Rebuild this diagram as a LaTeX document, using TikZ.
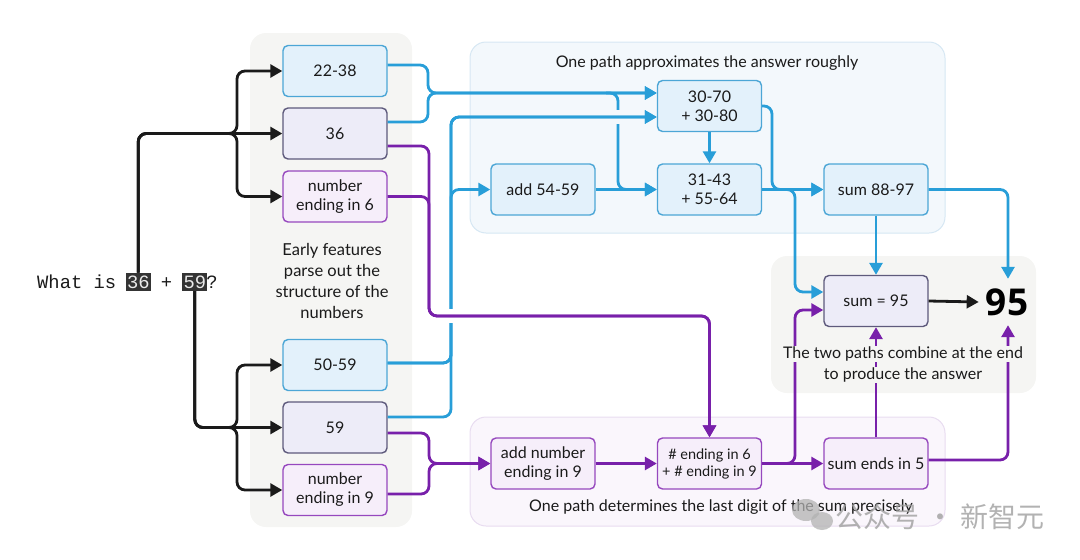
\documentclass[tikz,border=0pt]{standalone}
\usepackage{fontspec}
\setmainfont{Lato}
\newfontfamily\monof{Liberation Mono}
\newfontfamily\bigf{Open Sans}
\newfontfamily\cjkf{Noto Sans CJK SC}
\usetikzlibrary{arrows.meta,calc}
\definecolor{lnblue}{RGB}{40,158,216}
\definecolor{lnpurp}{RGB}{120,32,170}
\definecolor{lnblk}{RGB}{26,26,26}
\definecolor{fblue}{RGB}{227,241,251}
\definecolor{dblue}{RGB}{76,166,214}
\definecolor{flav}{RGB}{237,236,248}
\definecolor{dlav}{RGB}{94,90,124}
\definecolor{fpur}{RGB}{246,238,250}
\definecolor{dpur}{RGB}{150,72,190}
\definecolor{pgray}{RGB}{245,245,243}
\definecolor{pblue}{RGB}{243,248,252}
\definecolor{pblueb}{RGB}{214,231,243}
\definecolor{ppur}{RGB}{250,246,252}
\definecolor{ppurb}{RGB}{232,220,240}
\definecolor{qbox}{RGB}{52,52,52}
\begin{document}
\begin{tikzpicture}[x=1pt,y=-1pt,
  box/.style={rounded corners=5pt, line width=1.4pt, minimum width=104pt, minimum height=51pt, inner sep=2pt, align=center, text=lnblk, font=\fontsize{16}{19}\selectfont},
  bbox/.style={box, draw=dblue, fill=fblue},
  lbox/.style={box, draw=dlav, fill=flav},
  pbox/.style={box, draw=dpur, fill=fpur},
  mono/.style={font=\fontsize{18.8}{22}\monof, inner sep=0pt, text=lnblk},
  qnum/.style={font=\fontsize{18.8}{22}\monof, fill=qbox, text=white!92!black, inner xsep=1.2pt, inner ysep=2.5pt, text depth=0.5pt},
  ptext/.style={font=\fontsize{16}{20.8}\selectfont, align=center, text=lnblk, inner sep=1pt},
  conn/.style={line width=2.8pt, rounded corners=8pt, line join=round},
  bl/.style={conn, draw=lnblue, -{Triangle[length=12pt,width=13pt]}},
  pl/.style={conn, draw=lnpurp, -{Triangle[length=12pt,width=13pt]}},
  kl/.style={conn, draw=lnblk, -{Triangle[length=12pt,width=13pt]}},
]
\useasboundingbox (0,0) rectangle (1080,560);
% panels
\fill[pgray, rounded corners=16pt] (250,33) rectangle (412,527);
\draw[pblueb, fill=pblue, line width=1pt, rounded corners=16pt] (470,42) rectangle (945,233);
\draw[ppurb, fill=ppur, line width=1pt, rounded corners=16pt] (470,417) rectangle (945,526);
\fill[pgray, rounded corners=16pt] (771,256) rectangle (1036,393);

% panel texts
\node[ptext] (tBlue) at (707,63) {One path approximates the answer roughly};
\node[ptext] (tPur) at (721,507) {One path determines the last digit of the sum precisely};
\node[ptext, font=\fontsize{16.5}{20.8}\selectfont] (tLeft) at (332,281) {Early features\\parse out the\\structure of the\\numbers};

% question
\node[mono, anchor=base west] (qw) at (37,288) {What is};
\node[qnum, anchor=base] (n36) at (138.3,288) {36};
\node[mono, anchor=base] (qp) at (166.6,288) {+};
\node[qnum, anchor=base] (n59) at (194.8,288) {59};
\node[mono, anchor=base] (qq) at (212,288) {?};

% boxes
\node[bbox] (a2238) at (335,71) {22-38};
\node[lbox] (a36) at (335,133.5) {36};
\node[pbox] (e6) at (335,196.5) {number\\ending in 6};
\node[bbox] (b5059) at (335,365) {50-59};
\node[lbox] (b59) at (335,427.5) {59};
\node[pbox] (e9) at (335,490) {number\\ending in 9};
\node[bbox] (c3070) at (709.5,106) {30-70\\+ 30-80};
\node[bbox] (c3143) at (709.5,189.5) {31-43\\+ 55-64};
\node[bbox] (add5459) at (543,189.5) {add 54-59};
\node[bbox] (s8897) at (876,189.5) {sum 88-97};
\node[lbox] (s95) at (876,301) {sum = 95};
\node[font=\fontsize{37}{40}\bigf\bfseries, inner sep=0pt, minimum height=46pt, text=black] (ans) at (1007,302) {95};
\node[pbox] (an9) at (543,463.5) {add number\\ending in 9};
\node[pbox, font=\fontsize{14.5}{17}\selectfont] (h6) at (709.5,463.5) {\# ending in 6\\+ \# ending in 9};
\node[pbox] (se5) at (876,463.5) {sum ends in 5};

% black connectors
\coordinate (j1) at (237,133.5);
\draw[kl] (n36.north) |- (j1) |- (a2238.west);
\draw[kl] (n36.north) |- (j1) -- (a36.west);
\draw[kl] (n36.north) |- (j1) |- (e6.west);
\coordinate (j2) at (237,427.5);
\draw[kl] (n59.south) |- (j2) |- (b5059.west);
\draw[kl] (n59.south) |- (j2) -- (b59.west);
\draw[kl] (n59.south) |- (j2) |- (e9.west);

% blue connectors
\coordinate (jb1) at (428,93);
\coordinate (jb2) at (618,93);
\draw[bl] ([yshift=6pt]a2238.east) -| (jb1) -- ([yshift=13pt]c3070.west);
\draw[bl] ([yshift=11.5pt]a36.east) -| (jb1) -- ([yshift=13pt]c3070.west);
\draw[bl] ([xshift=-12pt]jb2) -- (jb2) |- (c3143.west);
\fill[pblue] (614.5,110) rectangle (621.5,124);
\coordinate (bx) at (451,117);
\coordinate (bv) at (451,300);
\draw[bl] ([yshift=2pt]b5059.east) -| (bx) -- ([yshift=-11pt]c3070.west);
\draw[bl] ([yshift=10.5pt]b59.east) -| (bx) -- ([yshift=-11pt]c3070.west);
\draw[bl] ([yshift=2pt]b5059.east) -| (bv) |- (add5459.west);
\draw[bl] (add5459.east) -- (c3143.west);
\draw[bl] (c3070.south) -- (c3143.north);
\coordinate (jc) at (772,189.5);
\draw[bl] (c3070.east) -| (jc) -- (s8897.west);
\draw[bl] (c3143.east) -- (s8897.west);
\coordinate (jd) at (795,240);
\draw[bl] (c3143.east) -| (jd) |- ([yshift=9pt]s95.west);
\draw[bl] (s8897.south) -- (s95.north);
\draw[bl] (s8897.east) -| ([xshift=1pt]ans.north);

% purple connectors
\fill[white] (447.5,309) rectangle (454.5,323);
\coordinate (pk) at (429,316);
\draw[pl] ([yshift=-12.5pt]a36.east) -| (pk) -| (h6.north);
\draw[pl] (e6.east) -| (pk) -| (h6.north);
\coordinate (pm) at (429,463.5);
\draw[pl] ([yshift=-5.5pt]b59.east) -| (pm) -- (an9.west);
\draw[pl] ([yshift=-4pt]e9.east) -| (pm) -- (an9.west);
\draw[pl] (an9.east) -- (h6.west);
\draw[pl] (h6.east) -- (se5.west);
\coordinate (pj) at (795,400);
\draw[pl] (h6.east) -| (pj) |- ([yshift=-9pt]s95.west);
\draw[pl] (se5.north) -- (s95.south);
\draw[pl] ([yshift=3.5pt]se5.east) -| ([xshift=1pt]ans.south);

\draw[kl] (s95.east) -- ([xshift=-7pt]ans.west);

% right panel text (covers lines)
\node[ptext, fill=pgray] (tR1) at (903,354) {The two paths combine at the end};
\node[ptext, fill=pgray] (tR2) at (903,375) {to produce the answer};

% watermark
\fill[gray!60, opacity=0.75] (806,510) ellipse (14pt and 11pt);
\fill[gray!60, opacity=0.75] (822,521) ellipse (11pt and 9pt);
\node[font=\fontsize{28}{28}\cjkf, text=gray!75, opacity=0.8, inner sep=0pt] (wm) at (940,517) {公众号 · 新智元};
\end{tikzpicture}
\end{document}
